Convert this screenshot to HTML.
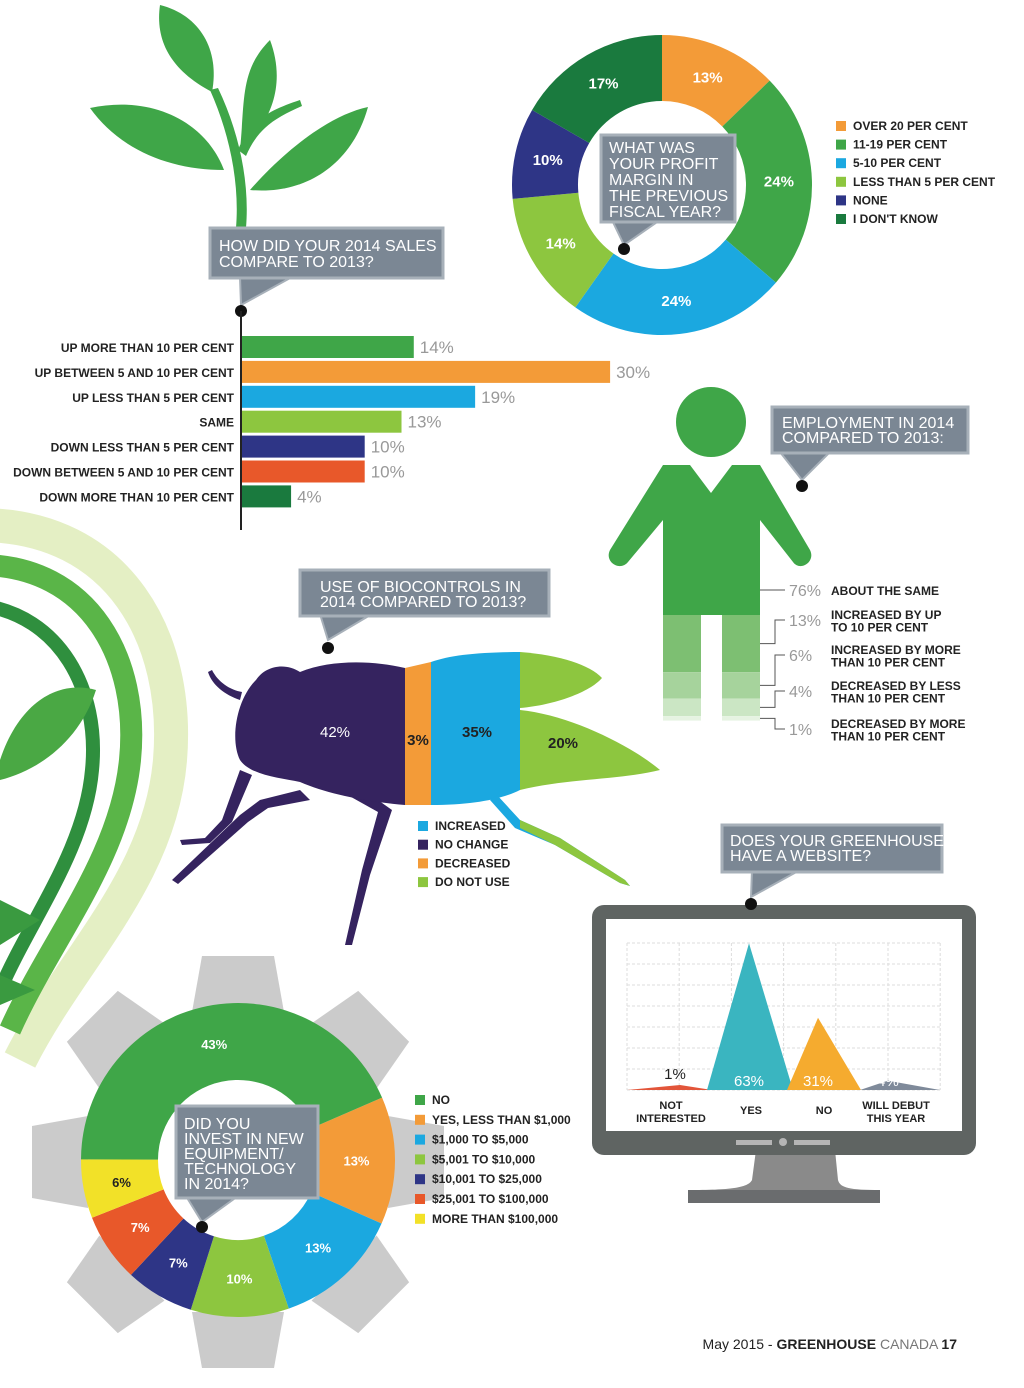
<!DOCTYPE html>
<html><head><meta charset="utf-8">
<style>
html,body{margin:0;padding:0;background:#fff;}
svg{display:block;font-family:"Liberation Sans",sans-serif;}
.lab{font-size:12px;font-weight:bold;fill:#222;}
.val{font-size:17px;fill:#999;}
.ct{font-size:16px;fill:#fff;}
</style></head>
<body>
<svg id="page" width="1024" height="1388" viewBox="0 0 1024 1388">
 <g>
  <path d="M-20 525 C120 525 180 640 170 760 C160 880 70 960 20 1060" fill="none" stroke="#e4efc4" stroke-width="34"/>
  <path d="M-20 565 C90 565 140 660 130 760 C120 860 50 940 10 1030" fill="none" stroke="#5ab548" stroke-width="22"/>
  <path d="M-20 605 C60 615 100 690 92 770 C85 850 30 920 0 990" fill="none" stroke="#2f8f3e" stroke-width="14"/>
  <path d="M0 760 C20 700 60 680 96 690 C80 740 40 770 0 780 Z" fill="#4aa844"/>
  <path d="M0 900 L40 920 L0 945 Z M0 975 L35 990 L0 1005 Z" fill="#3a9a40"/>
 </g>
 <g fill="#3fa648">
  <path d="M236 228 C240 180 228 130 210 90 L218 88 C238 130 250 180 246 228 Z"/>
  <path d="M238 150 C250 120 270 110 300 100 L302 106 C275 118 258 128 246 156 Z"/>
  <path d="M212 92 C170 70 155 40 160 5 C200 15 220 50 212 92 Z"/>
  <path d="M224 170 C170 170 120 150 90 108 C150 95 205 120 224 170 Z"/>
  <path d="M240 150 C245 100 240 70 270 40 C285 80 275 120 240 150 Z"/>
  <path d="M250 190 C285 150 330 115 368 107 C352 165 305 195 250 190 Z"/>
 </g>

 <g>
  <path d="M240 277 L292 277 L241 305 Z" fill="#7b8794" stroke="#a7b0b9" stroke-width="2"/>
  <rect x="210" y="228" width="233" height="50" fill="#7b8794" stroke="#a7b0b9" stroke-width="3"/>
  <text class="ct" x="219" y="251">HOW DID YOUR 2014 SALES</text>
  <text class="ct" x="219" y="267">COMPARE TO 2013?</text>
  <circle cx="241" cy="311" r="6" fill="#111"/>
 </g>
 <g id="bars">
  <line x1="241" y1="311" x2="241" y2="530" stroke="#222" stroke-width="2"/>
 </g>

 <g id="donut1"></g>
 <g>
  <path d="M612 220 L660 220 L624 245 Z" fill="#7b8794" stroke="#a7b0b9" stroke-width="2"/>
  <rect x="601" y="135" width="134" height="87" fill="#7b8794" stroke="#a7b0b9" stroke-width="3"/>
  <text class="ct" x="609" y="153">WHAT WAS</text>
  <text class="ct" x="609" y="169">YOUR PROFIT</text>
  <text class="ct" x="609" y="185">MARGIN IN</text>
  <text class="ct" x="609" y="201">THE PREVIOUS</text>
  <text class="ct" x="609" y="217">FISCAL YEAR?</text>
  <circle cx="624" cy="249" r="6" fill="#111"/>
 </g>
 <g id="legend1"></g>

 <g id="person">
  <circle cx="711" cy="422" r="35" fill="#3fa648"/>
  <path d="M663 465 L690 465 L711 493 L732 465 L760 465 L810 550 C816 562 800 572 793 562 L760 520 L760 615 L663 615 L663 520 L628 562 C620 572 604 562 610 550 Z" fill="#3fa648"/>
 </g>
 <g>
  <path d="M780 452 L830 452 L802 480 Z" fill="#7b8794" stroke="#a7b0b9" stroke-width="2"/>
  <rect x="772" y="407" width="196" height="46" fill="#7b8794" stroke="#a7b0b9" stroke-width="3"/>
  <text class="ct" x="782" y="428">EMPLOYMENT IN 2014</text>
  <text class="ct" x="782" y="443">COMPARED TO 2013:</text>
  <circle cx="802" cy="486" r="6" fill="#111"/>
 </g>

 <g>
  <path d="M320 614 L372 614 L328 640 Z" fill="#7b8794" stroke="#a7b0b9" stroke-width="2"/>
  <rect x="300" y="570" width="249" height="46" fill="#7b8794" stroke="#a7b0b9" stroke-width="3"/>
  <text class="ct" x="320" y="592">USE OF BIOCONTROLS IN</text>
  <text class="ct" x="320" y="607">2014 COMPARED TO 2013?</text>
  <circle cx="328" cy="648" r="6" fill="#111"/>
 </g>
 <g id="bug">
  <g fill="#35235f">
   <path d="M240 770 L222 820 L205 838 L180 840 L182 845 L210 843 L232 822 L252 775 Z"/>
   <path d="M300 790 L260 800 L240 815 L172 880 L178 884 L248 822 L268 808 L310 800 Z"/>
   <path d="M335 788 L378 812 L362 870 L345 945 L352 945 L370 875 L392 810 L352 782 Z"/>
   <path d="M240 700 C225 695 212 685 208 672 L212 670 C218 682 230 690 242 692 Z"/>
  </g>
  <path d="M405 668 C370 660 330 660 300 672 C285 662 265 666 256 680 C236 700 230 740 240 760 C250 775 280 778 300 782 C330 795 370 802 405 805 Z" fill="#35235f"/>
  <path d="M405 668 L431 662 L431 805 L405 805 Z" fill="#f39b38"/>
  <path d="M431 662 C450 655 480 652 520 652 L520 790 C500 800 470 805 431 805 Z" fill="#1ba8e0"/>
  <path d="M520 652 C560 655 590 665 602 678 C590 692 555 705 520 708 Z" fill="#8dc63f"/>
  <path d="M520 710 C570 715 630 745 660 770 C620 780 570 778 520 790 Z" fill="#8dc63f"/>
  <path d="M497 795 L520 820 L560 838 L625 880 L630 886 L620 883 L555 845 L515 828 L490 800 Z" fill="#1ba8e0"/>
  <path d="M520 820 L560 838 L625 880 L630 886 L620 883 L555 845 L520 828 Z" fill="#8dc63f"/>
  <text x="335" y="737" font-size="15" fill="#fff" text-anchor="middle" id="bug-l0"></text>
  <text x="418" y="745" font-size="15" fill="#222" text-anchor="middle" font-weight="bold" id="bug-l1"></text>
  <text x="477" y="737" font-size="15" fill="#222" text-anchor="middle" font-weight="bold" id="bug-l2"></text>
  <text x="563" y="748" font-size="15" fill="#222" text-anchor="middle" font-weight="bold" id="bug-l3"></text>
 </g>
 <g id="legend3"></g>

 <g>
  <path d="M752 870 L800 870 L751 897 Z" fill="#7b8794" stroke="#a7b0b9" stroke-width="2"/>
  <rect x="722" y="825" width="220" height="47" fill="#7b8794" stroke="#a7b0b9" stroke-width="3"/>
  <text class="ct" x="730" y="846">DOES YOUR GREENHOUSE</text>
  <text class="ct" x="730" y="861">HAVE A WEBSITE?</text>
 </g>
 <g>
  <path d="M756 1150 L835 1150 L838 1180 C840 1188 850 1190 880 1190 L880 1203 L688 1203 L688 1190 C730 1190 748 1188 752 1180 Z" fill="#8a8a8a"/>
  <rect x="688" y="1190" width="192" height="13" fill="#6a6c6e"/>
  <rect x="592" y="905" width="384" height="250" rx="12" fill="#5f6462"/>
  <rect x="606" y="919" width="356" height="212" fill="#fff"/>
  <g fill="#b5b5b5"><rect x="736" y="1140" width="36" height="5"/><rect x="794" y="1140" width="36" height="5"/><circle cx="783" cy="1142" r="4"/></g>
  <circle cx="751" cy="904" r="6" fill="#111"/>
 </g>
 <g id="grid"></g>
 <g id="tri"></g>

 <g id="gear"></g>
 <g id="donut2"></g>
 <g>
  <path d="M186 1196 L238 1196 L202 1222 Z" fill="#7b8794" stroke="#a7b0b9" stroke-width="2"/>
  <rect x="176" y="1106" width="142" height="92" fill="#7b8794" stroke="#a7b0b9" stroke-width="3"/>
  <text class="ct" x="184" y="1129">DID YOU</text>
  <text class="ct" x="184" y="1144">INVEST IN NEW</text>
  <text class="ct" x="184" y="1159">EQUIPMENT/</text>
  <text class="ct" x="184" y="1174">TECHNOLOGY</text>
  <text class="ct" x="184" y="1189">IN 2014?</text>
  <circle cx="202" cy="1227" r="6" fill="#111"/>
 </g>
 <g id="legend2"></g>

 <text x="957" y="1349" font-size="14" text-anchor="end" fill="#222">May 2015 - <tspan font-weight="bold">GREENHOUSE</tspan> <tspan fill="#777">CANADA</tspan> <tspan font-weight="bold">17</tspan></text>
</svg>
<script>
const NS="http://www.w3.org/2000/svg";
const salesCats=["UP MORE THAN 10 PER CENT","UP BETWEEN 5 AND 10 PER CENT","UP LESS THAN 5 PER CENT","SAME","DOWN LESS THAN 5 PER CENT","DOWN BETWEEN 5 AND 10 PER CENT","DOWN MORE THAN 10 PER CENT"];
const salesVals=[14,30,19,13,10,10,4];
const profitCats=["OVER 20 PER CENT","11-19 PER CENT","5-10 PER CENT","LESS THAN 5 PER CENT","NONE","I DON'T KNOW"];
const profitVals=[13,24,24,14,10,17];
const empCats=["ABOUT THE SAME","INCREASED BY UP|TO 10 PER CENT","INCREASED BY MORE|THAN 10 PER CENT","DECREASED BY LESS|THAN 10 PER CENT","DECREASED BY MORE|THAN 10 PER CENT"];
const empVals=[76,13,6,4,1];
const bugCats=["NO CHANGE","DECREASED","INCREASED","DO NOT USE"];
const bugVals=[42,3,35,20];
const webCats=["NOT|INTERESTED","YES","NO","WILL DEBUT|THIS YEAR"];
const webVals=[1,63,31,4];
const investCats=["NO","YES, LESS THAN $1,000","$1,000 TO $5,000","$5,001 TO $10,000","$10,001 TO $25,000","$25,001 TO $100,000","MORE THAN $100,000"];
const investVals=[43,13,13,10,7,7,6];

function mk(tag,attrs,parent){const e=document.createElementNS(NS,tag);for(const k in attrs)e.setAttribute(k,attrs[k]);parent.appendChild(e);return e;}
const C={g:"#3fa648",o:"#f39b38",b:"#1ba8e0",lg:"#8dc63f",n:"#2e3586",r:"#e8582a",dg:"#1a7a3e",y:"#f2e128"};

const bars=document.getElementById('bars');
const salesCol=[C.g,C.o,C.b,C.lg,C.n,C.r,C.dg];
const xS=v=>v*12.27, y0=347, dy=24.9;
salesVals.forEach((v,i)=>{
 const y=y0+i*dy;
 const r=mk('rect',{x:242,y:y-11,width:xS(v),height:22,fill:salesCol[i]},bars);
 
 
 const t=mk('text',{x:234,y:y+5,'text-anchor':'end',class:'lab'},bars);t.textContent=salesCats[i];
 
 
 const vt=mk('text',{x:248+xS(v),y:y+6,class:'val'},bars);vt.textContent=v+'%';
 
 
});

function arc(cx,cy,r1,r2,a0,a1){
 const s=(a,r)=>[cx+r*Math.sin(a),cy-r*Math.cos(a)];const lg=(a1-a0)>Math.PI?1:0;
 const A=s(a0,r2),B=s(a1,r2),Cc=s(a1,r1),D=s(a0,r1);
 return `M${A} A${r2},${r2} 0 ${lg} 1 ${B} L${Cc} A${r1},${r1} 0 ${lg} 0 ${D} Z`;}
function donut(g,vals,cols,cx,cy,r1,r2,start,labCol,fs,name){
 const tot=vals.reduce((a,b)=>a+b,0);let a=start;
 vals.forEach((v,i)=>{const da=v/tot*2*Math.PI;
  const p=mk('path',{d:arc(cx,cy,r1,r2,a,a+da),fill:cols[i]},g);
  
  
  const m=a+da/2,rr=(r1+r2)/2;
  const t=mk('text',{x:cx+rr*Math.sin(m),y:cy-rr*Math.cos(m)+5,'text-anchor':'middle','font-size':fs,fill:labCol[i],'font-weight':'bold'},g);t.textContent=v+'%';
  
  
  a+=da;});
}
function legend(g,cats,cols,x,y,step,name){
 cats.forEach((c,i)=>{const r=mk('rect',{x:x,y:y+i*step-9,width:10,height:10,fill:cols[i]},g);
  
  
  const t=mk('text',{x:x+17,y:y+i*step,class:'lab'},g);t.textContent=c;
  
  });
}
const pc=[C.o,C.g,C.b,C.lg,C.n,C.dg];
donut(document.getElementById('donut1'),profitVals,pc,662,185,84,150,0,Array(6).fill('#fff'),15,'profit');
legend(document.getElementById('legend1'),profitCats,pc,836,130,18.6,'profit-legend');

const person=document.getElementById('person');
const shades=["#3fa648","#7dbf72","#a6d39c","#cbe6c4","#e6f3e2"];
let yy=615;const legS=4.4;
const ly=[590,620,655,691,729];
empVals.forEach((v,i)=>{
 let h=i==0?0:v*legS;
 if(i==0){const r=mk('rect',{x:663,y:560,width:97,height:55,fill:shades[0]},person);
  
  }
 else{[663,722].forEach(x=>{const r=mk('rect',{x:x,y:yy,width:38,height:h,fill:shades[i]},person);
  
  });}
 const my=i==0?590:yy+h/2;
 const ln=mk('polyline',{points:`760,${my} 775,${my} 775,${ly[i]} 785,${ly[i]}`,fill:'none',stroke:'#555','stroke-width':1},person);
 
 
 const t=mk('text',{x:789,y:ly[i]+6,'font-size':16,fill:'#999'},person);t.textContent=v+'%';
 
 
 const parts=empCats[i].split('|');
 parts.forEach((p,j)=>{const tt=mk('text',{x:831,y:ly[i]+(parts.length>1?-1:5)+j*12.5,class:'lab'},person);tt.textContent=p;
  
  });
 yy+=h;
});

bugVals.forEach((v,i)=>{document.getElementById('bug-l'+i).textContent=v+'%';});
legend(document.getElementById('legend3'),[bugCats[2],bugCats[0],bugCats[1],bugCats[3]],[C.b,"#35235f",C.o,C.lg],418,830,18.7,'biocontrol-legend');

const grid=document.getElementById('grid');
for(let i=0;i<=7;i++){mk('line',{x1:627,x2:940,y1:943+i*21,y2:943+i*21,stroke:'#ddd','stroke-dasharray':'3,2'},grid);}
for(let i=0;i<=6;i++){mk('line',{x1:627+i*52.2,x2:627+i*52.2,y1:943,y2:1090,stroke:'#ddd','stroke-dasharray':'3,2'},grid);}
const tri=document.getElementById('tri');
const base=1090;
const triX=[[627,680,712],[707,749,793],[787,818,861],[860,888,940]];
const triC=["#e2553a","#3ab5c0","#f5ab2f","#7f8a9a"];
const tLblC=["#222","#fff","#fff","#fff"];
webVals.forEach((v,i)=>{const [a,p,b]=triX[i];
 const h=Math.max(v*2.33,5);
 const pth=mk('path',{d:`M${a},${base} L${p},${base-h} L${b},${base} Z`,fill:triC[i]},tri);
 
 
 const t=mk('text',{x:p-(i==0?5:0),y:i==0?1079:base-4,'text-anchor':'middle','font-size':15,fill:tLblC[i]},tri);t.textContent=v+'%';
 
 
 const parts=webCats[i].split('|');const cx=[671,751,824,896][i];
 parts.forEach((s,j)=>{const tt=mk('text',{x:cx,y:(parts.length>1?1109:1114)+j*13,'text-anchor':'middle','font-size':11,'font-weight':'bold',fill:'#222'},tri);tt.textContent=s;
  
  });
});

const gear=document.getElementById('gear');
for(let k=0;k<8;k++){
 const g=mk('path',{d:'M-36,-206 L36,-206 L46,-150 L-46,-150 Z',fill:'#cbcbcb',transform:`translate(238,1162) rotate(${k*45})`},gear);
 
 }
const ic=[C.g,C.o,C.b,C.lg,C.n,C.r,C.y];
const icOrder=[1,2,3,4,5,6,0];
const orangeStart=Math.PI/2-investVals[1]/100*Math.PI;
donut(document.getElementById('donut2'),icOrder.map(i=>investVals[i]),icOrder.map(i=>ic[i]),238,1160,80,157,orangeStart,icOrder.map(i=>i==6?'#222':'#fff'),13,'invest');
legend(document.getElementById('legend2'),investCats,ic,415,1104,19.8,'invest-legend');
</script>
</body></html>
